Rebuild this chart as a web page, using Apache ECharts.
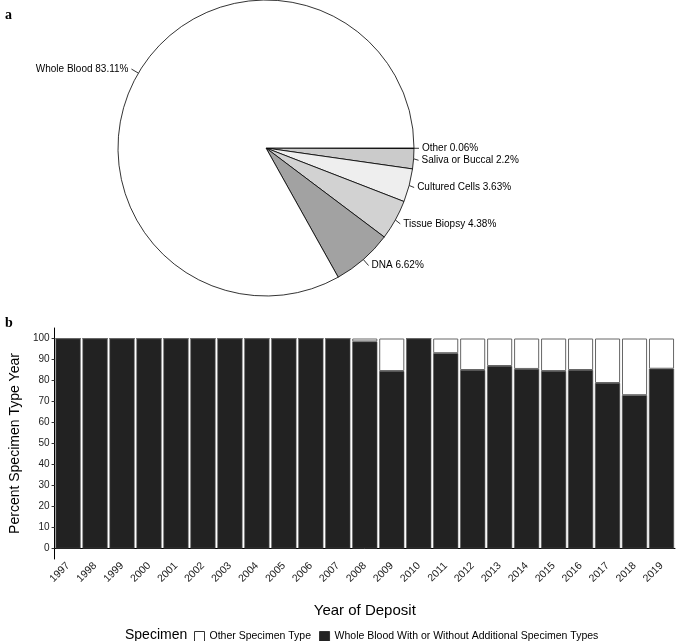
<!DOCTYPE html>
<html>
<head>
<meta charset="utf-8">
<script src="https://cdn.jsdelivr.net/npm/echarts@6/dist/echarts.min.js"></script>
<style>html,body{margin:0;padding:0;background:#fff;}#c{width:676px;height:641px;}</style>
</head>
<body>
<div id="c"></div>
<script>
// Panel a: pie
const pieNames = ['Other', 'Saliva or Buccal', 'Cultured Cells', 'Tissue Biopsy', 'DNA', 'Whole Blood'];
const pieValues = [0.06, 2.2, 3.63, 4.38, 6.62, 83.11];
const pieColors = ['#333333', '#cbcbcb', '#eeeeee', '#d2d2d2', '#a2a2a2', '#ffffff'];

// Panel b: stacked bars
const years = ['1997','1998','1999','2000','2001','2002','2003','2004','2005','2006','2007','2008','2009','2010','2011','2012','2013','2014','2015','2016','2017','2018','2019'];
const wholeBlood = [100,100,100,100,100,100,100,100,100,100,100,98.6,84.5,100,93.0,85.0,86.9,85.5,84.5,85.0,78.8,73.0,85.6];
const otherType = [0,0,0,0,0,0,0,0,0,0,0,1.4,15.5,0,7.0,15.0,13.1,14.5,15.5,15.0,21.2,27.0,14.4];
const yTicks = [0,10,20,30,40,50,60,70,80,90,100];

const FONT = 'Liberation Sans, Arial, sans-serif';
const chart = echarts.init(document.getElementById('c'), null, {renderer: 'canvas'});
chart.setOption({
  animation: false,
  backgroundColor: '#ffffff',
  textStyle: {fontFamily: FONT},
  title: [
    {text: 'a', left: 0, top: 3, textStyle: {fontFamily: 'Liberation Serif, Times New Roman, serif', fontWeight: 'bold', fontSize: 14, color: '#000'}},
    {text: 'b', left: 0, top: 311, textStyle: {fontFamily: 'Liberation Serif, Times New Roman, serif', fontWeight: 'bold', fontSize: 14, color: '#000'}},
    {text: 'Specimen', left: 120, top: 623, textStyle: {fontFamily: FONT, fontWeight: 'normal', fontSize: 14, color: '#000'}}
  ],
  legend: {
    left: 189, top: 626,
    icon: 'rect', itemWidth: 10, itemHeight: 10, itemGap: 8,
    textStyle: {fontFamily: FONT, fontSize: 10.5, color: '#000'},
    data: [
      {name: 'Other Specimen Type', itemStyle: {color: '#fff', borderColor: '#333', borderWidth: 1}},
      {name: 'Whole Blood With or Without Additional Specimen Types', itemStyle: {color: '#222', borderColor: '#333', borderWidth: 1}}
    ],
    selectedMode: false
  },
  grid: {left: 50, right: 1, top: 328, bottom: 82, containLabel: false},
  xAxis: {
    type: 'category', data: years,
    name: 'Year of Deposit', nameLocation: 'middle', nameGap: 44,
    nameTextStyle: {fontFamily: FONT, fontSize: 15, color: '#000'},
    axisLine: {lineStyle: {color: '#000', width: 1}},
    axisTick: {alignWithLabel: true, length: 3, lineStyle: {color: '#333'}},
    axisLabel: {rotate: 45, fontSize: 10.5, color: '#222', margin: 5, interval: 0}
  },
  yAxis: {
    type: 'value', min: -5, max: 105,
    name: 'Percent Specimen Type Year', nameLocation: 'middle', nameGap: 32,
    nameTextStyle: {fontFamily: FONT, fontSize: 14, color: '#000'},
    axisLine: {show: true, lineStyle: {color: '#000', width: 1}},
    axisTick: {show: true, length: 3, customValues: yTicks, lineStyle: {color: '#333'}},
    axisLabel: {customValues: yTicks, fontSize: 10, color: '#222', margin: 5},
    splitLine: {show: false}
  },
  series: [
    {
      type: 'pie', center: [266, 148], radius: 148,
      startAngle: 0, clockwise: true, avoidLabelOverlap: true,
      data: pieNames.map((n, i) => ({name: n, value: pieValues[i], itemStyle: {color: pieColors[i]}})),
      itemStyle: {borderColor: '#000', borderWidth: 0.8},
      label: {show: true, position: 'outside', formatter: '{b} {c}%', fontFamily: FONT, fontSize: 10, color: '#000', distanceToLabelLine: 3},
      labelLine: {show: true, length: 8, length2: 0, lineStyle: {color: '#000', width: 0.8}},
      emphasis: {disabled: true}
    },
    {
      name: 'Whole Blood With or Without Additional Specimen Types',
      type: 'bar', stack: 's', data: wholeBlood, barCategoryGap: '7%',
      itemStyle: {color: '#222222', borderColor: '#555', borderWidth: 0.6}
    },
    {
      name: 'Other Specimen Type',
      type: 'bar', stack: 's', data: otherType, barCategoryGap: '7%',
      itemStyle: {color: '#ffffff', borderColor: '#666', borderWidth: 1}
    }
  ]
});
</script>
</body>
</html>
